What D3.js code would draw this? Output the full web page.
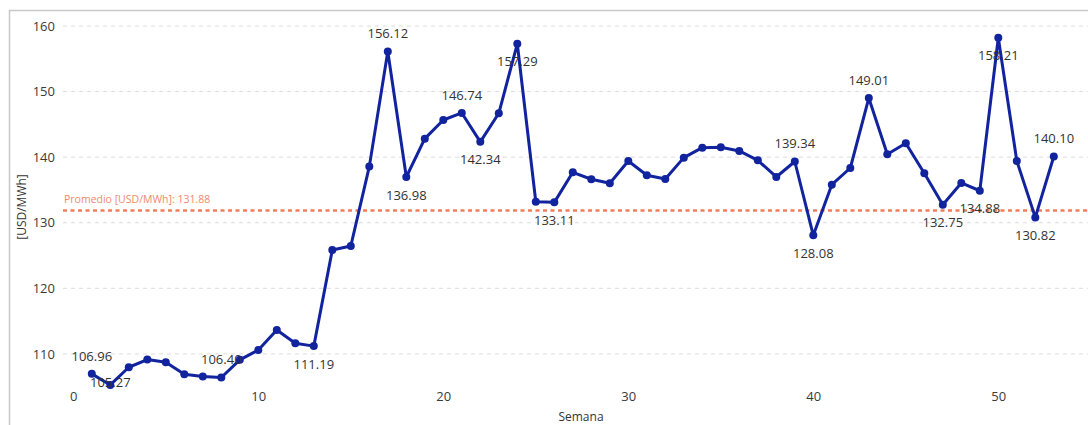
<!DOCTYPE html>
<html><head><meta charset="utf-8">
<script src="https://cdn.jsdelivr.net/npm/d3@7"></script>
<style>
html,body{margin:0;padding:0;background:#fff;}
svg{display:block;font-family:"Open Sans","Noto Sans",sans-serif;}
</style></head>
<body>
<svg id="chart" width="1088" height="425"></svg>
<script>
const weeks = d3.range(1, 54);
const prices = [
  106.96, 105.27, 107.97, 109.14, 108.73, 106.90, 106.55, 106.40, 109.10, 110.60,
  113.66, 111.63, 111.19, 125.85, 126.46, 138.56, 156.12, 136.98, 142.82, 145.67,
  146.74, 142.34, 146.69, 157.29, 133.20, 133.11, 137.69, 136.63, 136.02, 139.42,
  137.24, 136.68, 139.93, 141.45, 141.50, 140.95, 139.52, 136.98, 139.34, 128.08,
  135.81, 138.35, 149.01, 140.44, 142.11, 137.54, 132.75, 136.07, 134.88, 158.21,
  139.42, 130.82, 140.10
];
const labeledWeeks = [1, 2, 8, 13, 17, 18, 21, 22, 24, 26, 39, 40, 43, 47, 49, 50, 52, 53];
const labelSide    = ["above","below","above","below","above","below","above","below","below","below","above","below","above","below","below","below","below","above"];
const average = 131.88;
const averageLabel = "Promedio [USD/MWh]: 131.88";
const xTicks = [0, 10, 20, 30, 40, 50];
const yTicks = [110, 120, 130, 140, 150, 160];
const xTitle = "Semana";
const yTitle = "[USD/MWh]";

const svg = d3.select("#chart");
const W = 1088, H = 425;
const plotLeft = 63, plotRight = 1088;

const x = d3.scaleLinear().domain([0, 55]).range([73.3, 1090.8]);
const y = d3.scaleLinear().domain([104.5, 160]).range([390, 26]);

// border
svg.append("path")
  .attr("d", `M9.5,${H} V10.5 H${W}`)
  .attr("fill", "none").attr("stroke", "#c8c8c8").attr("stroke-width", 1.5);

// grid lines
svg.append("g").selectAll("line").data(yTicks).join("line")
  .attr("x1", plotLeft).attr("x2", plotRight)
  .attr("y1", d => y(d)).attr("y2", d => y(d))
  .attr("stroke", "#dcdcdc").attr("stroke-width", 1).attr("stroke-dasharray", "4,4");

// y axis labels
const yAxis = d3.axisLeft(y).tickValues(yTicks).tickSize(0).tickPadding(0).tickFormat(d3.format("d"));
const gy = svg.append("g").attr("transform", "translate(55,0)").call(yAxis);
gy.select(".domain").remove();
gy.selectAll("text").attr("fill", "#3a3a3a").attr("font-size", 13).attr("font-family", "'Open Sans',sans-serif");

// x axis labels
const xAxis = d3.axisBottom(x).tickValues(xTicks).tickSize(0).tickPadding(0).tickFormat(d3.format("d"));
const gx = svg.append("g").attr("transform", "translate(0,392)").call(xAxis);
gx.select(".domain").remove();
gx.selectAll("text").attr("fill", "#3a3a3a").attr("font-size", 13).attr("font-family", "'Open Sans',sans-serif");

// axis titles
svg.append("text").attr("x", 581).attr("y", 421).attr("text-anchor", "middle")
  .attr("font-size", 12).attr("fill", "#333").text(xTitle);
svg.append("text").attr("transform", "translate(26,207) rotate(-90)").attr("text-anchor", "middle")
  .attr("font-size", 12).attr("fill", "#333").text(yTitle);

// average line
svg.append("line")
  .attr("x1", plotLeft).attr("x2", plotRight)
  .attr("y1", y(average)).attr("y2", y(average))
  .attr("stroke", "#EE7D5C").attr("stroke-width", 2.5).attr("stroke-dasharray", "4,3.5");
svg.append("text").attr("x", 64).attr("y", y(average) - 7)
  .attr("font-size", 10.5).attr("fill", "#F08A6C").text(averageLabel);

// line
const data = weeks.map((w, i) => ({w, v: prices[i]}));
svg.append("path").datum(data)
  .attr("fill", "none").attr("stroke", "#12239E").attr("stroke-width", 3).attr("stroke-linejoin", "round")
  .attr("d", d3.line().x(d => x(d.w)).y(d => y(d.v)));

svg.append("g").selectAll("circle").data(data).join("circle")
  .attr("cx", d => x(d.w)).attr("cy", d => y(d.v)).attr("r", 4)
  .attr("fill", "#12239E");

// data labels
const plotBottom = y.range()[0];
svg.append("g").selectAll("text").data(labeledWeeks).join("text")
  .attr("x", w => x(w))
  .attr("y", (w, i) => {
    const py = y(prices[w - 1]);
    let cy = labelSide[i] === "above" ? py - 17.7 : py + 18;
    cy = Math.min(cy, plotBottom - 7.5);
    return cy + 4.6;
  })
  .attr("text-anchor", "middle")
  .attr("font-size", 13).attr("fill", "#333")
  .text(w => prices[w - 1].toFixed(2));
</script>
</body></html>
